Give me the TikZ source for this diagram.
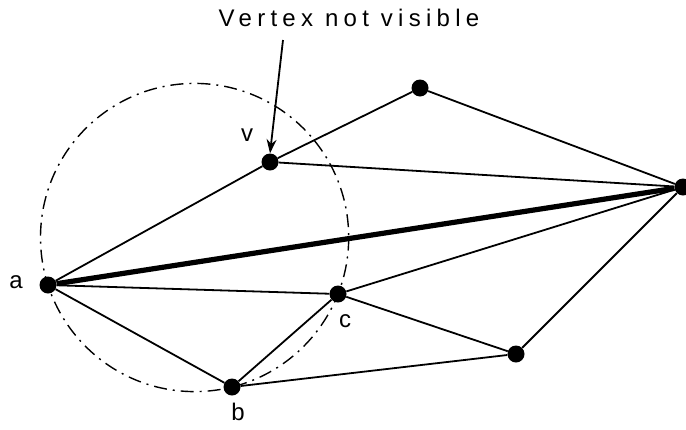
\documentclass[tikz,border=0pt]{standalone}
\usepackage{fontspec}
\setmainfont{Liberation Sans}
\usetikzlibrary{arrows.meta,positioning}

\begin{document}
\begin{tikzpicture}[x=1pt,y=-1pt,
    vertex/.style={
      circle,
      fill=black,
      inner sep=0pt,
      minimum size=17pt
    },
    edge/.style={
      line width=1.8pt
    },
    heavy/.style={
      line width=5.2pt
    },
    vlabel/.style={
      font=\fontsize{24}{28}\selectfont,
      inner sep=0pt
    },
    pointer/.style={
      -{Stealth[length=14pt,width=10pt]},
      line width=1.8pt
    }]

    \useasboundingbox (0,0) rectangle (686,429);

    % circle through a, b and c
    \draw[line width=1.4pt,dash pattern=on 13pt off 6pt on 2pt off 6pt]
      (194.6,237.5) circle[radius=154.1];

    % Vertices
    \node[vertex] (a) at (48,285) {};
    \node[vertex] (b) at (232,387) {};
    \node[vertex] (c) at (338,294) {};
    \node[vertex] (v) at (270,162) {};
    \node[vertex] (vt) at (420,88) {};
    \node[vertex] (vr) at (683,187) {};
    \node[vertex] (vbr) at (516,354) {};

    % Labels
    \node[vlabel] (la) at (16,282) {a};
    \node[vlabel] (lb) at (238,412) {b};
    \node[vlabel] (lc) at (345,321) {c};
    \node[vlabel] (lv) at (247,135) {v};
    \node[vlabel,font=\fontsize{24}{28}\selectfont\addfontfeature{LetterSpace=22}]
      (note) at (349,18) {Vertex not visible};

    % Edges
    \draw[edge] (a) -- (v);
    \draw[edge] (a) -- (c);
    \draw[edge] (a) -- (b);
    \draw[edge] (b) -- (c);
    \draw[edge] (b) -- (vbr);
    \draw[edge] (c) -- (vbr);
    \draw[edge] (c) -- (vr);
    \draw[edge] (vbr) -- (vr);
    \draw[edge] (v) -- (vt);
    \draw[edge] (v) -- (vr);
    \draw[edge] (vt) -- (vr);
    \draw[heavy] (a) -- (vr);

    % Pointer to v
    \coordinate (tail) at (283,40);
    \draw[pointer] (tail) -- (v.north);
  \end{tikzpicture}
\end{document}
